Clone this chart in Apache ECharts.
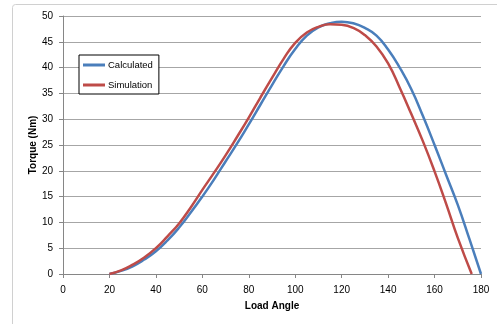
<!DOCTYPE html>
<html>
<head>
<meta charset="utf-8">
<script src="https://cdn.jsdelivr.net/npm/echarts@6/dist/echarts.min.js"></script>
<style>
html, body { margin: 0; padding: 0; background: #fff; }
#chart { width: 497px; height: 324px; }
</style>
</head>
<body>
<div id="chart"></div>
<script>
// load angle (deg) and torque (Nm)
const calcAngle = [20, 25, 30, 35, 40, 45, 50, 55, 60, 65, 70, 75, 80, 85, 90, 95, 100, 105, 110, 115, 120, 125, 130, 135, 140, 145, 150, 155, 160, 165, 170, 175, 180]
const calcTorque = [0, 0.6, 1.5, 2.8, 4.4, 6.5, 9.0, 11.9, 15.0, 18.3, 21.8, 25.3, 29.0, 32.8, 36.6, 40.3, 43.6, 46.2, 47.8, 48.6, 48.9, 48.6, 47.7, 46.2, 43.5, 40.0, 35.8, 30.6, 25.0, 19.2, 13.4, 6.8, 0]
const simAngle = [20, 25, 30, 35, 40, 45, 50, 55, 60, 65, 70, 75, 80, 85, 90, 95, 100, 105, 110, 115, 120, 125, 130, 135, 140, 145, 150, 155, 160, 165, 170, 176]
const simTorque = [0, 0.7, 1.8, 3.2, 5.0, 7.3, 9.8, 12.9, 16.3, 19.6, 23.0, 26.6, 30.3, 34.2, 38.0, 41.7, 44.8, 46.8, 47.9, 48.4, 48.3, 47.7, 46.3, 44.1, 40.8, 36.1, 31.0, 25.7, 19.9, 13.6, 7.0, 0]
const xTicks = { min: 0, max: 180, interval: 20 }
const yTicks = { min: 0, max: 50, interval: 5 }

const pairs = (xs, ys) => xs.map((x, i) => [x, ys[i]])
const font = 'Liberation Sans'
const axisGrey = '#868686'

const chart = echarts.init(document.getElementById('chart'))
const option = {
    animation: false,
    textStyle: { fontFamily: font },
    graphic: [{
        type: 'rect',
        shape: { x: 12.5, y: 4.5, width: 600, height: 400, r: 3 },
        style: { fill: 'none', stroke: '#d0d0d0', lineWidth: 1 },
        z: -1
    }],
    grid: { left: 63, right: 16, top: 16, bottom: 50 },
    legend: {
        left: 79,
        top: 55,
        orient: 'vertical',
        icon: 'rect',
        backgroundColor: '#fff',
        borderColor: '#000',
        borderWidth: 1,
        borderRadius: 0,
        padding: [5, 6, 4, 4],
        itemWidth: 22,
        itemHeight: 3,
        itemGap: 10,
        textStyle: { fontFamily: font, fontSize: 9.5, color: '#000', padding: [0, 0, 0, -2] },
        data: ['Calculated', 'Simulation']
    },
    xAxis: {
        type: 'value',
        min: xTicks.min,
        max: xTicks.max,
        interval: xTicks.interval,
        name: 'Load Angle',
        nameLocation: 'middle',
        nameGap: 27,
        nameMoveOverlap: false,
        nameTextStyle: { fontWeight: 'bold', fontSize: 10, color: '#000' },
        axisLine: { lineStyle: { color: axisGrey } },
        axisTick: { show: true, length: 4, lineStyle: { color: axisGrey } },
        axisLabel: { color: '#000', fontSize: 10, margin: 11 },
        splitLine: { show: false }
    },
    yAxis: {
        type: 'value',
        min: yTicks.min,
        max: yTicks.max,
        interval: yTicks.interval,
        name: 'Torque (Nm)',
        nameLocation: 'middle',
        nameRotate: 90,
        nameGap: 25,
        nameMoveOverlap: false,
        nameTextStyle: { fontWeight: 'bold', fontSize: 10, color: '#000' },
        axisLine: { show: true, lineStyle: { color: axisGrey } },
        axisTick: { show: true, length: 4, lineStyle: { color: axisGrey } },
        axisLabel: { color: '#000', fontSize: 10, margin: 10 },
        splitLine: { lineStyle: { color: '#a6a6a6', width: 1 } }
    },
    series: [
        {
            name: 'Calculated',
            type: 'line',
            data: pairs(calcAngle, calcTorque),
            smooth: 0.5,
            symbol: 'none',
            color: '#4a7ebb',
            lineStyle: { width: 2.5, color: '#4a7ebb' }
        },
        {
            name: 'Simulation',
            type: 'line',
            data: pairs(simAngle, simTorque),
            smooth: 0.5,
            symbol: 'none',
            color: '#be4b48',
            lineStyle: { width: 2.5, color: '#be4b48' }
        }
    ]
}
chart.setOption(option)
</script>
</body>
</html>
